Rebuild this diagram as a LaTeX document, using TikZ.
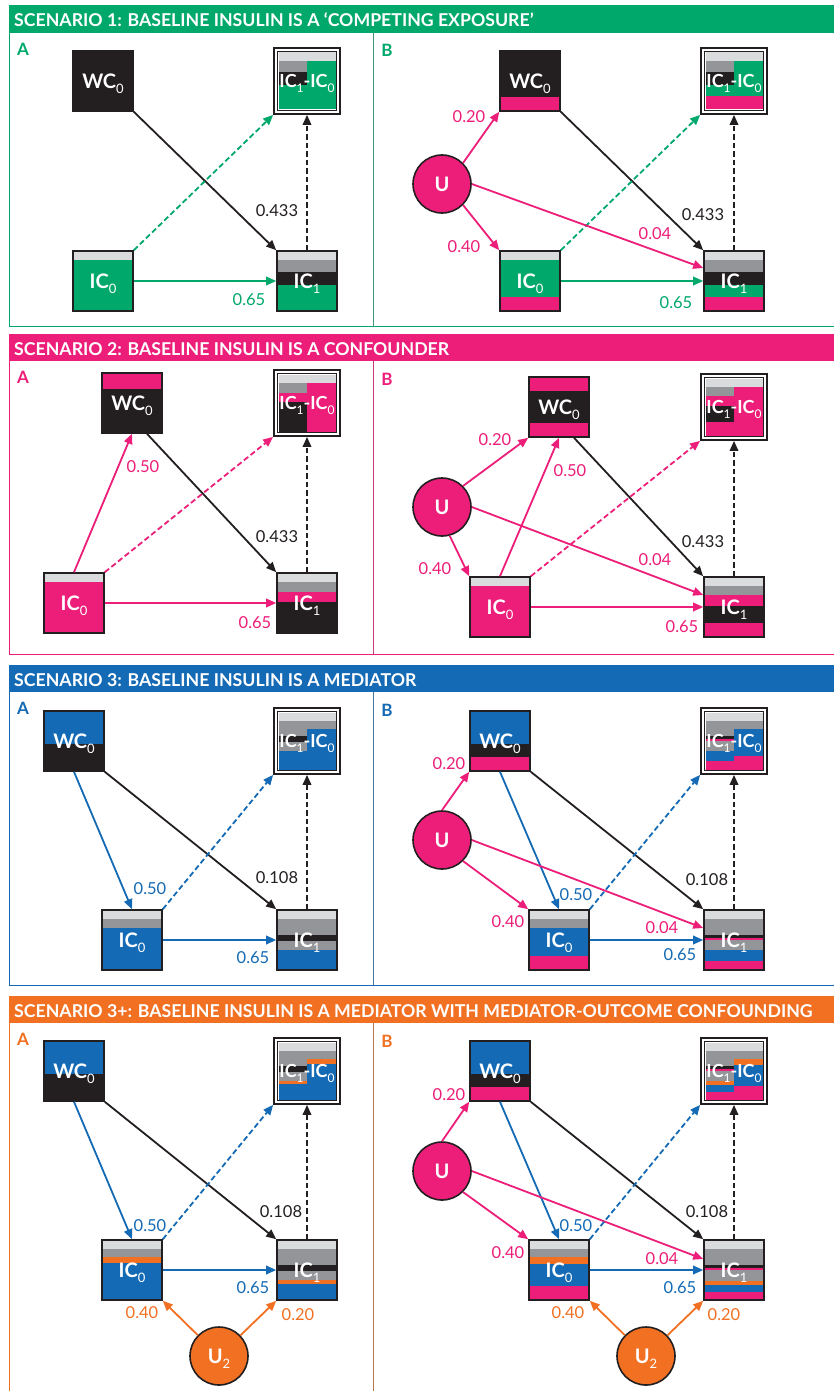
\documentclass[tikz,border=0pt]{standalone}
\usepackage{fontspec}
\setmainfont{Lato}
\usetikzlibrary{arrows.meta}
\definecolor{cgreen}{RGB}{0,168,107}
\definecolor{cpink}{RGB}{237,30,121}
\definecolor{cblue}{RGB}{20,106,180}
\definecolor{corange}{RGB}{241,112,34}
\definecolor{cdark}{RGB}{35,31,32}
\definecolor{clgray}{RGB}{218,219,221}
\definecolor{cmgray}{RGB}{147,149,152}
\newcommand\sbs[1]{\raisebox{-0.28em}{\fontsize{13}{13}\selectfont\mdseries #1}}
\newcommand\dsbs[1]{\raisebox{-0.28em}{\fontsize{12}{12}\selectfont\mdseries #1}}
\newcommand\stripes[3]{\foreach \cc/\ya/\yb in {#3}{\fill[\cc] ({#1-30},{#2-30+\ya}) rectangle ({#1+30},{#2-30+\yb});}}
\newcommand\diffstripes[4]{%
 \foreach \cc/\ya/\yb in {#3}{\fill[\cc] ({#1-28.5},{#2-28.5+0.95*\ya}) rectangle ({#1},{#2-28.5+0.95*\yb});}
 \foreach \cc/\ya/\yb in {#4}{\fill[\cc] ({#1},{#2-28.5+0.95*\ya}) rectangle ({#1+28.5},{#2-28.5+0.95*\yb});}
 \draw[cdark,line width=1.3pt] ({#1-29.6},{#2-29.6}) rectangle ({#1+29.6},{#2+29.6});}
\tikzset{
 box/.style={draw=cdark, line width=1.6pt, minimum size=60pt, inner sep=0pt, text=white, text depth=0pt, font=\fontsize{20}{20}\selectfont\bfseries},
 dbox/.style={draw=cdark, line width=1.8pt, minimum size=66pt, inner sep=0pt, text=white, text depth=0pt, font=\fontsize{18}{18}\selectfont\bfseries},
 ucirc/.style={circle, draw=cdark, line width=1.6pt, minimum size=58pt, inner sep=0pt, text=white, text depth=0pt, font=\fontsize{20}{20}\selectfont\bfseries},
 lab/.style={font=\fontsize{16.5}{16.5}\selectfont, inner sep=0pt, text depth=0pt},
 arr/.style={line width=1.8pt, -{Triangle[length=10pt,width=8.5pt]}},
 dsh/.style={dash pattern=on 5.5pt off 3pt},
 hdr/.style={anchor=base west, text=white, font=\fontsize{17.7}{17.7}\selectfont\bfseries, inner sep=0pt},
 plet/.style={font=\fontsize{17}{17}\selectfont\bfseries, inner sep=0pt, text depth=0pt},
}
\begin{document}
\begin{tikzpicture}[x=1pt,y=-1pt]
\useasboundingbox (0,0) rectangle (834,1391);
\fill[white] (0,0) rectangle (834,1391);
% ===== headers and frames
\fill[cgreen] (9,5) rectangle (834,33);
\node[hdr] (h1) at (14,26.5) {SCENARIO 1: BASELINE INSULIN IS A ‘COMPETING EXPOSURE’};
\draw[cgreen,line width=0.8pt] (9,33) -- (9,326) -- (834,326);
\draw[cgreen!50!gray,line width=0.8pt] (373,33) -- (373,326);
\fill[cpink] (9,334) rectangle (834,361);
\node[hdr] (h2) at (14,355.5) {SCENARIO 2: BASELINE INSULIN IS A CONFOUNDER};
\draw[cpink,line width=0.8pt] (9,361) -- (9,654) -- (834,654);
\draw[cpink!70!gray,line width=0.8pt] (373,361) -- (373,654);
\fill[cblue] (9,665) rectangle (834,692);
\node[hdr] (h3) at (14,686.5) {SCENARIO 3: BASELINE INSULIN IS A MEDIATOR};
\draw[cblue,line width=0.8pt] (9,692) -- (9,985) -- (834,985);
\draw[cblue!50!gray,line width=0.8pt] (373,692) -- (373,985);
\fill[corange] (9,996) rectangle (834,1023);
\node[hdr] (h4) at (14,1017.5) {SCENARIO 3+: BASELINE INSULIN IS A MEDIATOR WITH MEDIATOR-OUTCOME CONFOUNDING};
\draw[corange,line width=0.8pt] (9,1023) -- (9,1391);
\draw[corange!50!gray,line width=0.8pt] (373,1023) -- (373,1391);
% panel letters
\node[plet,text=cgreen] (l1a) at (23,49) {A};
\node[plet,text=cgreen] (l1b) at (387,50) {B};
\node[plet,text=cpink] (l2a) at (23,377) {A};
\node[plet,text=cpink] (l2b) at (387,379) {B};
\node[plet,text=cblue] (l3a) at (23,708) {A};
\node[plet,text=cblue] (l3b) at (387,710) {B};
\node[plet,text=corange] (l4a) at (23,1039) {A};
\node[plet,text=corange] (l4b) at (387,1041) {B};

% ===================== PANEL 1A
\stripes{103}{81}{cdark/0/60}
\node[box] (p1aWC) at (103,81) {WC\sbs0};
\stripes{103}{281}{clgray/0/9,cgreen/9/60}
\node[box] (p1aIC0) at (103,281) {IC\sbs0};
\stripes{307}{281}{clgray/0/9,cmgray/9/21,cdark/21/34,cgreen/34/60}
\node[box] (p1aIC1) at (307,281) {IC\sbs1};
\diffstripes{307}{81}{clgray/0/9,cmgray/9/21,cdark/21/34,cgreen/34/60}{clgray/0/9,cgreen/9/60}
\node[dbox] (p1aD) at (307,81) {IC\dsbs1-IC\dsbs0};
\draw[arr,cdark] (p1aWC.south east) -- (p1aIC1.north west);
\draw[arr,cgreen] (p1aIC0) -- (p1aIC1);
\draw[arr,cgreen,dsh] (p1aIC0.north east) -- (p1aD.south west);
\draw[arr,cdark,dsh] (p1aIC1) -- (p1aD);
\node[lab,text=cdark] (t1a1) at (277,211) {0.433};
\node[lab,text=cgreen] (t1a2) at (249,300) {0.65};

% ===================== PANEL 1B
\stripes{530}{81}{cdark/0/46,cpink/46/60}
\node[box] (p1bWC) at (530,81) {WC\sbs0};
\stripes{530}{281}{clgray/0/9,cgreen/9/46,cpink/46/60}
\node[box] (p1bIC0) at (530,281) {IC\sbs0};
\stripes{734}{281}{clgray/0/9,cmgray/9/21,cdark/21/34,cgreen/34/46,cpink/46/60}
\node[box] (p1bIC1) at (734,281) {IC\sbs1};
\diffstripes{734}{81}{clgray/0/9,cmgray/9/21,cdark/21/34,cgreen/34/46,cpink/46/60}{clgray/0/9,cgreen/9/46,cpink/46/60}
\node[dbox] (p1bD) at (734,81) {IC\dsbs1-IC\dsbs0};
\node[ucirc,fill=cpink] (p1bU) at (442,184) {U};
\draw[arr,cdark] (p1bWC.south east) -- (p1bIC1.north west);
\draw[arr,cgreen] (p1bIC0) -- (p1bIC1);
\draw[arr,cgreen,dsh] (p1bIC0.north east) -- (p1bD.south west);
\draw[arr,cdark,dsh] (p1bIC1) -- (p1bD);
\draw[arr,cpink] (p1bU.45) -- (p1bWC.south west);
\draw[arr,cpink] (p1bU.-45) -- (p1bIC0.north west);
\draw[arr,cpink] (p1bU.east) -- ([yshift=13pt]p1bIC1.west);
\node[lab,text=cpink] (t1b1) at (469,117) {0.20};
\node[lab,text=cpink] (t1b2) at (464,247) {0.40};
\node[lab,text=cpink] (t1b3) at (655,234) {0.04};
\node[lab,text=cdark] (t1b4) at (703,215) {0.433};
\node[lab,text=cgreen] (t1b5) at (676,303) {0.65};

% ===================== PANEL 2A
\stripes{132}{403}{cpink/0/16,cdark/16/60}
\node[box] (p2aWC) at (132,403) {WC\sbs0};
\stripes{74}{603}{clgray/0/9,cpink/9/60}
\node[box] (p2aIC0) at (74,603) {IC\sbs0};
\stripes{307}{603}{clgray/0/9,cmgray/9/19,cpink/19/29,cdark/29/60}
\node[box] (p2aIC1) at (307,603) {IC\sbs1};
\diffstripes{307}{403}{clgray/0/9,cmgray/9/19,cpink/19/29,cdark/29/60}{clgray/0/9,cpink/9/60}
\node[dbox] (p2aD) at (307,403) {IC\dsbs1-IC\dsbs0};
\draw[arr,cdark] ([xshift=15pt]p2aWC.south) -- (p2aIC1.north west);
\draw[arr,cpink] (p2aIC0.north) -- (p2aWC.south);
\draw[arr,cpink] (p2aIC0) -- (p2aIC1);
\draw[arr,cpink,dsh] (p2aIC0.north east) -- (p2aD.south west);
\draw[arr,cdark,dsh] (p2aIC1) -- (p2aD);
\node[lab,text=cpink] (t2a1) at (143,467) {0.50};
\node[lab,text=cdark] (t2a2) at (277,537) {0.433};
\node[lab,text=cpink] (t2a3) at (255,623) {0.65};

% ===================== PANEL 2B
\stripes{559}{407}{cpink/0/14,cdark/14/46,cpink/46/60}
\node[box] (p2bWC) at (559,407) {WC\sbs0};
\stripes{500}{607}{clgray/0/9,cpink/9/60}
\node[box] (p2bIC0) at (500,607) {IC\sbs0};
\stripes{734}{607}{clgray/0/9,cmgray/9/18,cpink/18/29,cdark/29/46,cpink/46/60}
\node[box] (p2bIC1) at (734,607) {IC\sbs1};
\diffstripes{734}{407}{clgray/0/9,cmgray/9/18,cpink/18/29,cdark/29/46,cpink/46/60}{clgray/0/9,cpink/9/60}
\node[dbox] (p2bD) at (734,407) {IC\dsbs1-IC\dsbs0};
\node[ucirc,fill=cpink] (p2bU) at (442,507) {U};
\draw[arr,cdark] ([xshift=15pt]p2bWC.south) -- (p2bIC1.north west);
\draw[arr,cpink] (p2bIC0.north) -- (p2bWC.south);
\draw[arr,cpink] (p2bU.45) -- (p2bWC.south west);
\draw[arr,cpink] (p2bU.-75) -- (p2bIC0.north west);
\draw[arr,cpink] (p2bU.east) -- ([yshift=12pt]p2bIC1.west);
\draw[arr,cpink] (p2bIC0) -- (p2bIC1);
\draw[arr,cpink,dsh] (p2bIC0.north east) -- (p2bD.south west);
\draw[arr,cdark,dsh] (p2bIC1) -- (p2bD);
\node[lab,text=cpink] (t2b1) at (495,440) {0.20};
\node[lab,text=cpink] (t2b2) at (570,471) {0.50};
\node[lab,text=cpink] (t2b3) at (435,569) {0.40};
\node[lab,text=cpink] (t2b4) at (655,560) {0.04};
\node[lab,text=cdark] (t2b5) at (703,542) {0.433};
\node[lab,text=cpink] (t2b6) at (682,627) {0.65};

% ===================== PANEL 3A
\stripes{74}{741}{cblue/0/33,cdark/33/60}
\node[box] (p3aWC) at (74,741) {WC\sbs0};
\stripes{132}{940}{clgray/0/9,cmgray/9/17.7,cblue/17.7/60}
\node[box] (p3aIC0) at (132,940) {IC\sbs0};
\stripes{307}{940}{clgray/0/9,cmgray/9/25,cdark/25/31,cmgray/31/40,cblue/40/60}
\node[box] (p3aIC1) at (307,940) {IC\sbs1};
\diffstripes{307}{741}{clgray/0/9,cmgray/9/25,cdark/25/31,cmgray/31/40,cblue/40/60}{clgray/0/9,cmgray/9/17.7,cblue/17.7/60}
\node[dbox] (p3aD) at (307,741) {IC\dsbs1-IC\dsbs0};
\draw[arr,cblue] (p3aWC.south) -- (p3aIC0.north);
\draw[arr,cdark] (p3aWC.south east) -- (p3aIC1.north west);
\draw[arr,cblue] (p3aIC0) -- (p3aIC1);
\draw[arr,cblue,dsh] (p3aIC0.north east) -- (p3aD.south west);
\draw[arr,cdark,dsh] (p3aIC1) -- (p3aD);
\node[lab,text=cblue] (t3a1) at (150,889) {0.50};
\node[lab,text=cdark] (t3a2) at (277,878) {0.108};
\node[lab,text=cblue] (t3a3) at (253,958) {0.65};

% ===================== PANEL 3B
\stripes{500}{741}{cblue/0/33,cdark/33/46,cpink/46/60}
\node[box] (p3bWC) at (500,741) {WC\sbs0};
\stripes{559}{940}{clgray/0/9,cmgray/9/17.7,cblue/17.7/46,cpink/46/60}
\node[box] (p3bIC0) at (559,940) {IC\sbs0};
\stripes{734}{940}{clgray/0/9,cmgray/9/25,cdark/25/27.5,cpink/27.5/30,cmgray/30/40,cblue/40/51,cpink/51/60}
\node[box] (p3bIC1) at (734,940) {IC\sbs1};
\diffstripes{734}{741}{clgray/0/9,cmgray/9/25,cdark/25/27.5,cpink/27.5/30,cmgray/30/40,cblue/40/51,cpink/51/60}{clgray/0/9,cmgray/9/17.7,cblue/17.7/46,cpink/46/60}
\node[dbox] (p3bD) at (734,741) {IC\dsbs1-IC\dsbs0};
\node[ucirc,fill=cpink] (p3bU) at (442,840) {U};
\draw[arr,cpink] (p3bU.north) -- (p3bWC.south west);
\draw[arr,cblue] (p3bWC.south) -- (p3bIC0.north);
\draw[arr,cdark] (p3bWC.south east) -- (p3bIC1.north west);
\draw[arr,cpink] (p3bU.-45) -- (p3bIC0.north west);
\draw[arr,cpink] (p3bU.east) -- ([yshift=12pt]p3bIC1.west);
\draw[arr,cblue] (p3bIC0) -- (p3bIC1);
\draw[arr,cblue,dsh] (p3bIC0.north east) -- (p3bD.south west);
\draw[arr,cdark,dsh] (p3bIC1) -- (p3bD);
\node[lab,text=cpink] (t3b1) at (449,764) {0.20};
\node[lab,text=cblue] (t3b2) at (576,895) {0.50};
\node[lab,text=cpink] (t3b3) at (508,922) {0.40};
\node[lab,text=cpink] (t3b4) at (662,928) {0.04};
\node[lab,text=cdark] (t3b5) at (707,880) {0.108};
\node[lab,text=cblue] (t3b6) at (680,955) {0.65};

% ===================== PANEL 4A
\stripes{74}{1071}{cblue/0/33,cdark/33/60}
\node[box] (p4aWC) at (74,1071) {WC\sbs0};
\stripes{132}{1270}{clgray/0/9,cmgray/9/17,corange/17/23,cblue/23/60}
\node[box] (p4aIC0) at (132,1270) {IC\sbs0};
\stripes{307}{1270}{clgray/0/9,cmgray/9/25,cdark/25/31,cmgray/31/40,corange/40/44,cblue/44/60}
\node[box] (p4aIC1) at (307,1270) {IC\sbs1};
\diffstripes{307}{1071}{clgray/0/9,cmgray/9/25,cdark/25/31,cmgray/31/40,corange/40/44,cblue/44/60}{clgray/0/9,cmgray/9/17,corange/17/23,cblue/23/60}
\node[dbox] (p4aD) at (307,1071) {IC\dsbs1-IC\dsbs0};
\node[ucirc,fill=corange] (p4aU2) at (219,1356) {U\sbs2};
\draw[arr,cblue] (p4aWC.south) -- (p4aIC0.north);
\draw[arr,cdark] (p4aWC.south east) -- (p4aIC1.north west);
\draw[arr,cblue] (p4aIC0) -- (p4aIC1);
\draw[arr,cblue,dsh] (p4aIC0.north east) -- (p4aD.south west);
\draw[arr,cdark,dsh] (p4aIC1) -- (p4aD);
\draw[arr,corange] (p4aU2) -- (p4aIC0.south east);
\draw[arr,corange] (p4aU2) -- (p4aIC1.south west);
\node[lab,text=cblue] (t4a1) at (150,1226) {0.50};
\node[lab,text=cdark] (t4a2) at (281,1212) {0.108};
\node[lab,text=cblue] (t4a3) at (253,1288) {0.65};
\node[lab,text=corange] (t4a4) at (142,1313) {0.40};
\node[lab,text=corange] (t4a5) at (298,1315) {0.20};

% ===================== PANEL 4B
\stripes{500}{1071}{cblue/0/33,cdark/33/46,cpink/46/60}
\node[box] (p4bWC) at (500,1071) {WC\sbs0};
\stripes{559}{1270}{clgray/0/9,cmgray/9/17,corange/17/24,cblue/24/46,cpink/46/60}
\node[box] (p4bIC0) at (559,1270) {IC\sbs0};
\stripes{734}{1270}{clgray/0/9,cmgray/9/25,cdark/25/28,cpink/28/30,cmgray/30/41,corange/41/45,cblue/45/52,cpink/52/60}
\node[box] (p4bIC1) at (734,1270) {IC\sbs1};
\diffstripes{734}{1071}{clgray/0/9,cmgray/9/25,cdark/25/28,cpink/28/30,cmgray/30/41,corange/41/45,cblue/45/52,cpink/52/60}{clgray/0/9,cmgray/9/17,corange/17/24,cblue/24/46,cpink/46/60}
\node[dbox] (p4bD) at (734,1071) {IC\dsbs1-IC\dsbs0};
\node[ucirc,fill=cpink] (p4bU) at (442,1171) {U};
\node[ucirc,fill=corange] (p4bU2) at (646,1356) {U\sbs2};
\draw[arr,cpink] (p4bU.north) -- (p4bWC.south west);
\draw[arr,cblue] (p4bWC.south) -- (p4bIC0.north);
\draw[arr,cdark] (p4bWC.south east) -- (p4bIC1.north west);
\draw[arr,cpink] (p4bU.-45) -- (p4bIC0.north west);
\draw[arr,cpink] (p4bU.east) -- ([yshift=11pt]p4bIC1.west);
\draw[arr,cblue] (p4bIC0) -- (p4bIC1);
\draw[arr,cblue,dsh] (p4bIC0.north east) -- (p4bD.south west);
\draw[arr,cdark,dsh] (p4bIC1) -- (p4bD);
\draw[arr,corange] (p4bU2) -- (p4bIC0.south east);
\draw[arr,corange] (p4bU2) -- (p4bIC1.south west);
\node[lab,text=cpink] (t4b1) at (449,1095) {0.20};
\node[lab,text=cblue] (t4b2) at (576,1226) {0.50};
\node[lab,text=cpink] (t4b3) at (508,1253) {0.40};
\node[lab,text=cpink] (t4b4) at (662,1259) {0.04};
\node[lab,text=cdark] (t4b5) at (707,1212) {0.108};
\node[lab,text=cblue] (t4b6) at (680,1288) {0.65};
\node[lab,text=corange] (t4b7) at (568,1313) {0.40};
\node[lab,text=corange] (t4b8) at (724,1315) {0.20};
\end{tikzpicture}
\end{document}
